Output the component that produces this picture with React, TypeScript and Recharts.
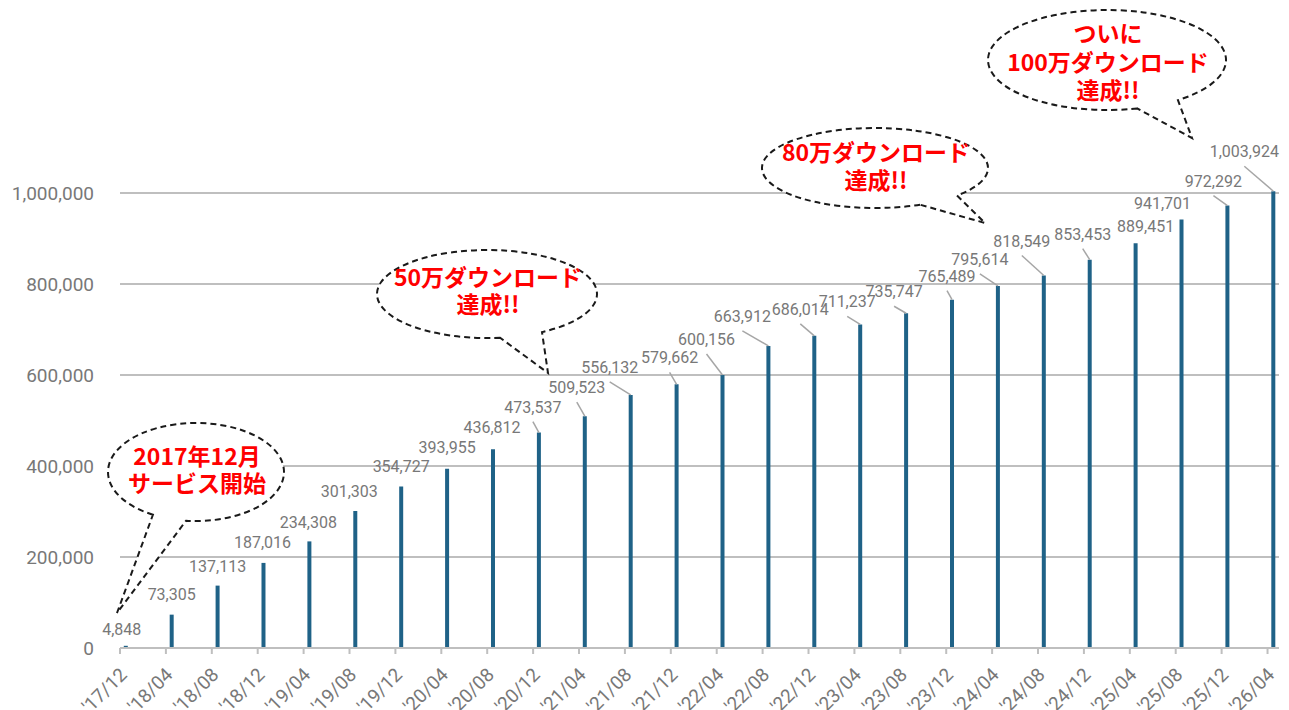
import React from "react";
import { BarChart, Bar, XAxis, YAxis, CartesianGrid, LabelList } from "recharts";

// ---- data ----
const categories = [
  "'17/12", "'18/04", "'18/08", "'18/12", "'19/04", "'19/08", "'19/12", "'20/04",
  "'20/08", "'20/12", "'21/04", "'21/08", "'21/12", "'22/04", "'22/08", "'22/12",
  "'23/04", "'23/08", "'23/12", "'24/04", "'24/08", "'24/12", "'25/04", "'25/08",
  "'25/12", "'26/04",
];
const downloads = [
  4848, 73305, 137113, 187016, 234308, 301303, 354727, 393955, 436812, 473537,
  509523, 556132, 579662, 600156, 663912, 686014, 711237, 735747, 765489, 795614,
  818549, 853453, 889451, 941701, 972292, 1003924,
];
const yTicks = [0, 200000, 400000, 600000, 800000, 1000000];
const yMax = 1200000;

// label layout: [dx from bar centre, dy from bar top to label baseline, leader line]
const labelLayout: [number, number, boolean][] = [
  [-4, -11, false], [0, -15, false], [0, -14, false], [-1, -15, false], [-1, -13, false],
  [-6, -14, false], [0, -15, false], [0, -16, false], [-1, -16, false], [-6, -20, true],
  [-8, -23, true], [-21, -22, true], [-7, -21, true], [-16, -30, true], [-26, -24, true],
  [-14, -21, true], [-13, -17, true], [-12, -16, true], [-5, -18, true], [-18, -21, true],
  [-22, -29, true], [-7, -20, true], [10, -11, false], [-19, -11, false], [-14, -19, true],
  [-29, -34, true],
];

// month index since the first category ("'17/12")
const monthOf = (c: string) => {
  const [yy, mm] = c.replace("'", "").split("/").map(Number);
  return (yy - 17) * 12 + (mm - 12);
};
const lastMonth = monthOf(categories[categories.length - 1]);
const data = categories.map((c, i) => ({ m: monthOf(c), v: downloads[i], label: c }));
const xTicks = categories.map((c) => monthOf(c) - 0.5);

const GREY = "#787878";
const GRID = "#bfbfbf";
const BAR = "#1f6287";
const FONT = "Roboto, 'Noto Sans', sans-serif";
const CJK = "'Noto Sans CJK JP', sans-serif";

const fmt = (v: number) => v.toLocaleString("en-US");

const XTick = (props: any) => {
  const { x, y, payload } = props;
  const c = categories.find((k) => monthOf(k) - 0.5 === payload.value) ?? "";
  return (
    <g transform={`translate(${x + 8},${y + 20})`}>
      <text x={0} y={0} transform="rotate(-45)" textAnchor="end" fill={GREY} fontSize={19} fontFamily={FONT}>
        {c}
      </text>
    </g>
  );
};

const renderLabel = (props: any) => {
  const { x, y, width, value } = props;
  let i = props.index;
  if (i === undefined || i === null || downloads[i] !== value) i = downloads.indexOf(value);
  const [dx, dy, leader] = labelLayout[i];
  const bx = x + width / 2;
  const by = y;
  const lx = bx + dx;
  const ly = by + dy;
  return (
    <g key={`lab-${i}`}>
      {leader && <line x1={lx} y1={ly + 9} x2={bx} y2={by} stroke="#a6a6a6" strokeWidth={1.5} />}
      <text x={lx} y={ly} textAnchor="middle" fill={GREY} fontSize={16} fontFamily={FONT}>
        {fmt(value)}
      </text>
    </g>
  );
};

const gridRows = (props: any) => {
  const off = props.offset || {};
  const top = off.top ?? 102;
  const h = off.height ?? 546;
  return yTicks.map((t) => top + h * (1 - t / yMax));
};

type BubbleDef = {
  cx: number; cy: number; rx: number; ry: number; a1: number; a2: number;
  tip: [number, number]; lines: string[]; baselines: number[];
};
const bubbles: BubbleDef[] = [
  { cx: 196, cy: 472, rx: 88, ry: 49, a1: 119.3, a2: 96.5, tip: [117, 613], lines: ["2017年12月", "サービス開始"], baselines: [465, 492] },
  { cx: 487, cy: 294, rx: 110, ry: 44, a1: 83.2, a2: 60, tip: [548, 373], lines: ["50万ダウンロード", "達成!!"], baselines: [286, 313] },
  { cx: 875, cy: 168, rx: 113, ry: 40, a1: 66.5, a2: 43.5, tip: [985, 223], lines: ["80万ダウンロード", "達成!!"], baselines: [161, 189] },
  { cx: 1107, cy: 60, rx: 119, ry: 50, a1: 75.4, a2: 53.4, tip: [1192, 138], lines: ["ついに", "100万ダウンロード", "達成!!"], baselines: [42, 71, 99] },
];

const bubblePath = (b: BubbleDef) => {
  const p = (a: number) => {
    const r = (a * Math.PI) / 180;
    return [b.cx + b.rx * Math.cos(r), b.cy + b.ry * Math.sin(r)];
  };
  const [ax, ay] = p(b.a1);
  const [bx, by] = p(b.a2);
  return `M ${ax} ${ay} A ${b.rx} ${b.ry} 0 1 1 ${bx} ${by} L ${b.tip[0]} ${b.tip[1]} Z`;
};

export default function App() {
  return (
    <div style={{ position: "absolute", left: 0, top: 0, width: 1289, height: 710, background: "#fff" }}>
      <BarChart width={1289} height={710} data={data} margin={{ top: 102, right: 10, bottom: 0, left: 0 }}>
        <CartesianGrid vertical={false} stroke={GRID} strokeWidth={2} horizontalCoordinatesGenerator={gridRows} />
        <YAxis
          type="number"
          domain={[0, yMax]}
          ticks={yTicks}
          width={120}
          axisLine={false}
          tickLine={false}
          tickMargin={20}
          tickFormatter={fmt}
          tick={{ fill: GREY, fontSize: 19, fontFamily: FONT }}
          interval={0}
        />
        <XAxis
          dataKey="m"
          type="number"
          domain={[-0.5, lastMonth + 0.5]}
          ticks={xTicks}
          interval={0}
          height={62}
          axisLine={{ stroke: GRID, strokeWidth: 2 }}
          tickLine={{ stroke: GRID, strokeWidth: 2 }}
          tickSize={6}
          tick={<XTick />}
        />
        <Bar dataKey="v" fill={BAR} barSize={4} isAnimationActive={false}>
          <LabelList dataKey="v" content={renderLabel} />
        </Bar>
      </BarChart>
      <svg width={1289} height={710} style={{ position: "absolute", left: 0, top: 0, pointerEvents: "none" }}>
        {bubbles.map((b, k) => (
          <g key={k}>
            <path d={bubblePath(b)} fill="#fff" stroke="#1a1a1a" strokeWidth={2} strokeDasharray="6 4" />
            {b.lines.map((t, j) => (
              <text key={j} x={b.cx + 1} y={b.baselines[j]} textAnchor="middle" fill="#ff0000" fontSize={23} fontWeight={700} fontFamily={CJK}>
                {t}
              </text>
            ))}
          </g>
        ))}
      </svg>
    </div>
  );
}
